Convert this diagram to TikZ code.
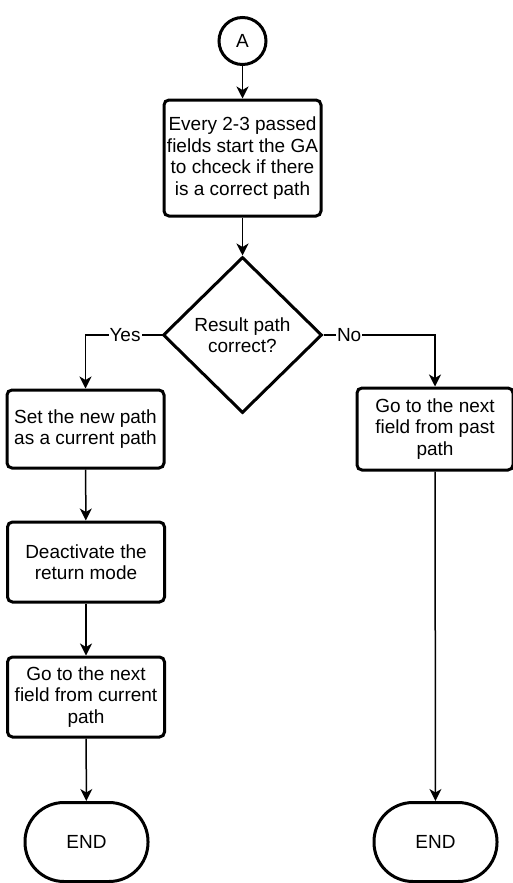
\documentclass[tikz,border=0pt]{standalone}
\usepackage{fontspec}
\setmainfont{Liberation Sans}
\usetikzlibrary{shapes.geometric,arrows.meta}

\begin{document}
\begin{tikzpicture}[x=1pt,y=-1pt,
  every node/.style={font=\fontsize{19}{21.5}\selectfont,align=center},
  box/.style={draw,line width=3pt,rounded corners=5pt,minimum width=157pt,inner sep=0pt},
  term/.style={draw,line width=3pt,rounded corners=39pt,minimum width=123pt,minimum height=79pt},
  decision/.style={draw,diamond,line width=3pt,minimum width=159pt,minimum height=156pt,inner sep=0pt},
  flow/.style={line width=1.5pt,-{Stealth[length=12pt,width=12pt,inset=3.5pt]}},
  lbl/.style={fill=white,inner sep=1pt}]
\useasboundingbox (0,0) rectangle (512,883);
\node[draw,circle,line width=3pt,minimum size=47pt,inner sep=0pt] (start) at (242.5,41) {A};
\node[box,minimum height=116pt] (ga) at (242.5,158) {Every 2-3 passed\\fields start the GA\\to chceck if there\\is a correct path};
\node[decision] (check) at (242.5,335) {Result path\\correct?};
\node[box,minimum height=78pt] (setpath) at (85.5,429) {Set the new path\\as a current path};
\node[box,minimum height=80pt] (deact) at (86,562) {Deactivate the\\return mode};
\node[box,minimum height=80pt] (gocurrent) at (86,697) {Go to the next\\field from current\\path};
\node[term] (endleft) at (86.5,842) {END};
\node[box,minimum width=156pt,minimum height=82pt] (gopast) at (435,429) {Go to the next\\field from past\\path};
\node[term] (endright) at (435.5,842) {END};
\draw[flow] (start) -- (ga);
\draw[flow] (ga) -- (check);
\draw[flow] (check.west) -| node[lbl,pos=0.24] {Yes} (setpath.north);
\draw[flow] (check.east) -| node[lbl,pos=0.115] {No} (gopast.north);
\draw[flow] (setpath) -- (deact);
\draw[flow] (deact) -- (gocurrent);
\draw[flow] (gocurrent) -- (endleft);
\draw[flow] (gopast) -- (endright);
\end{tikzpicture}
\end{document}
